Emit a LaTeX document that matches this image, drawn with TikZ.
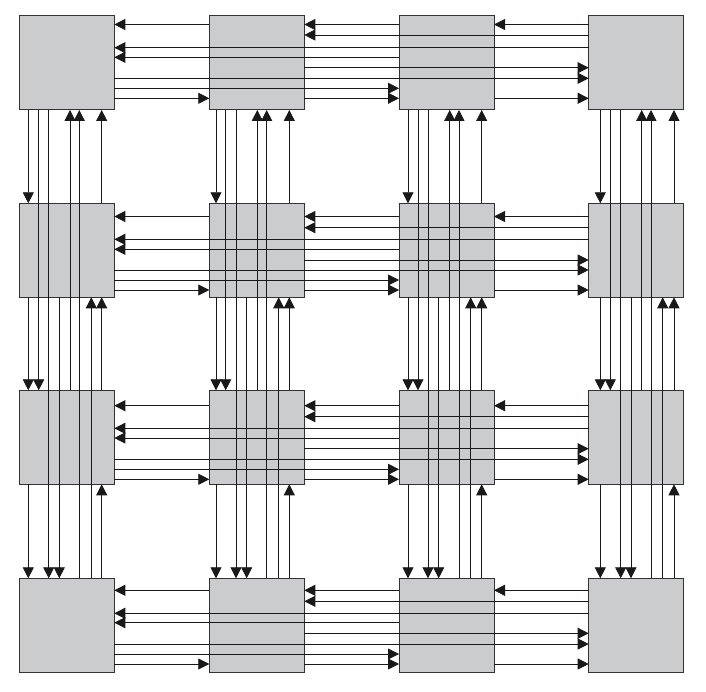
\documentclass[tikz,border=0pt]{standalone}
\usetikzlibrary{arrows.meta}
\definecolor{boxgray}{RGB}{203,204,206}
\begin{document}
\begin{tikzpicture}[x=1pt,y=-1pt,
  box/.style={draw=black!80, fill=boxgray, line width=1pt, minimum width=95pt, minimum height=94pt, inner sep=0pt, outer sep=0pt, anchor=north west},
  link/.style={draw=black!90, line width=0.8pt, -{Triangle[length=11pt,width=11pt]}}]
\useasboundingbox (0,0) rectangle (706,692);
% boxes
\foreach \r/\y in {1/16,2/203.3,3/390.3,4/578.3}
  \foreach \c/\x in {1/19.3,2/209.3,3/399,4/588.7}
    \node[box] (b\r\c) at (\x,\y) {};
% horizontal track positions per row
\foreach \r/\vals in {1/{24.5,35,47.7,57.3,67.7,78.3,88.3,98.3},
                      2/{216.5,227.7,239.3,249.3,260,270,280,290},
                      3/{405.7,416.7,428.3,438,448.7,459.3,469.3,479.3},
                      4/{590.3,601.3,613.3,622.7,633.3,644,654,664}}
  \foreach \v [count=\k] in \vals \coordinate (h\r\k) at (0,\v);
% vertical track positions per column
\foreach \c/\vals in {1/{28.3,38.7,48.7,59.3,70,79.3,91.3,101.7},
                      2/{216,225.7,236,246.7,257.3,266.7,278.7,289.3},
                      3/{408,418,428,438.7,449.7,459,470.7,481.7},
                      4/{600.3,610.3,620.7,631,641.7,651,662.7,674}}
  \foreach \v [count=\k] in \vals \coordinate (v\c\k) at (\v,0);
% horizontal links
\foreach \r in {1,...,4} {
  \foreach \c [evaluate=\c as \p using int(\c-1)] in {2,3,4}
    \draw[link] (b\r\c.west |- h\r1) -- (b\r\p.east |- h\r1);
  \draw[link] (b\r4.west |- h\r2) -- (b\r2.east |- h\r2);
  \draw[link] (b\r4.west |- h\r3) -- (b\r1.east |- h\r3);
  \draw[link] (b\r3.west |- h\r4) -- (b\r1.east |- h\r4);
  \draw[link] (b\r2.east |- h\r5) -- (b\r4.west |- h\r5);
  \draw[link] (b\r1.east |- h\r6) -- (b\r4.west |- h\r6);
  \draw[link] (b\r1.east |- h\r7) -- (b\r3.west |- h\r7);
  \foreach \c [evaluate=\c as \n using int(\c+1)] in {1,2,3}
    \draw[link] (b\r\c.east |- h\r8) -- (b\r\n.west |- h\r8);
}
% vertical links
\foreach \c in {1,...,4} {
  \foreach \r [evaluate=\r as \n using int(\r+1)] in {1,2,3}
    \draw[link] (b\r\c.south -| v\c1) -- (b\n\c.north -| v\c1);
  \draw[link] (b1\c.south -| v\c2) -- (b3\c.north -| v\c2);
  \draw[link] (b1\c.south -| v\c3) -- (b4\c.north -| v\c3);
  \draw[link] (b2\c.south -| v\c4) -- (b4\c.north -| v\c4);
  \draw[link] (b3\c.north -| v\c5) -- (b1\c.south -| v\c5);
  \draw[link] (b4\c.north -| v\c6) -- (b1\c.south -| v\c6);
  \draw[link] (b4\c.north -| v\c7) -- (b2\c.south -| v\c7);
  \foreach \r [evaluate=\r as \p using int(\r-1)] in {2,3,4}
    \draw[link] (b\r\c.north -| v\c8) -- (b\p\c.south -| v\c8);
}
\end{tikzpicture}
\end{document}
